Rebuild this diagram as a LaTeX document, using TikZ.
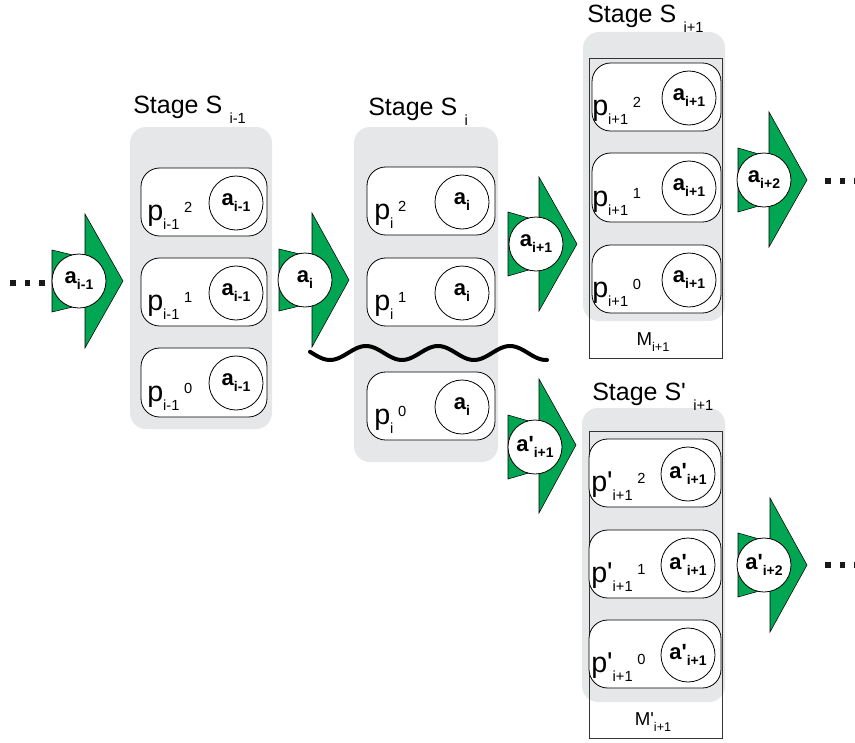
\documentclass[tikz,border=0pt]{standalone}
\usepackage{fontspec}
\setmainfont{Liberation Sans}
\usepackage{xcolor}
\usepackage{tikz}

\definecolor{stagegrey}{RGB}{230,231,232}
\definecolor{tokengreen}{RGB}{0,166,81}

% p^k labels: base, subscript, superscript
\newcommand{\proclab}[3]{\fontsize{21.5}{21.5}\selectfont #1\raisebox{-7pt}{\fontsize{11}{11}\selectfont #2}\hspace{3.5pt}\raisebox{6pt}{\fontsize{11}{11}\selectfont #3}}
% token labels in the circles
\newcommand{\toklab}[2]{\bfseries\fontsize{16.5}{16.5}\selectfont #1\raisebox{-4.5pt}{\fontsize{10.5}{10.5}\selectfont #2}}
\newcommand{\stagelab}[2]{\fontsize{18.75}{18.75}\selectfont Stage #1\hspace{5.5pt}\raisebox{-7.5pt}{\fontsize{11}{11}\selectfont #2}}
\newcommand{\memlab}[2]{\fontsize{14}{14}\selectfont #1\raisebox{-4.5pt}{\fontsize{9.5}{9.5}\selectfont #2}}

\tikzset{
  stagebox/.style={fill=stagegrey, rounded corners=12pt},
  procbox/.style={draw, fill=white, line width=0.6pt, rounded corners=14pt},
  membox/.style={draw=black!80, line width=0.5pt},
  token/.style={circle, draw, fill=white, line width=0.6pt, minimum size=40.5pt, inner sep=0pt},
  flowarrow/.style={fill=tokengreen, draw=black, line width=0.4pt},
  ellipsis/.style={fill=black!90},
  cutline/.style={line width=3pt, line cap=round},
  txt/.style={inner sep=0pt}
}

\begin{document}
\begin{tikzpicture}[x=0.75pt,y=0.75pt,yscale=-1,xscale=1]
\useasboundingbox (0,0) rectangle (855,742);

%Stage S i-1
\fill [stagebox] (130,127) rectangle (272,429);
\draw [procbox] (141,168) rectangle (267,236);
\draw [procbox] (141,258) rectangle (267,326);
\draw [procbox] (141,348) rectangle (267,417);
\node [token] (prev2) at (236,203) {\toklab{a}{i-1}};
\node [token] (prev1) at (236,293) {\toklab{a}{i-1}};
\node [token] (prev0) at (236,383) {\toklab{a}{i-1}};
\node [txt, anchor=base west] (pprev2) at (147,220) {\proclab{p}{i-1}{2}};
\node [txt, anchor=base west] (pprev1) at (147,310) {\proclab{p}{i-1}{1}};
\node [txt, anchor=base west] (pprev0) at (147,401) {\proclab{p}{i-1}{0}};
\node [txt, anchor=base west] (sprev) at (133,113) {\stagelab{S}{i-1}};

%Stage S i
\fill [stagebox] (354,127) rectangle (498,462);
\draw [procbox] (367,167) rectangle (495,235);
\draw [procbox] (367,258) rectangle (495,326);
\draw [procbox] (367,372) rectangle (495,440);
\node [token] (cur2) at (462,202) {\toklab{a}{i}};
\node [token] (cur1) at (462,293) {\toklab{a}{i}};
\node [token] (cur0) at (462,407) {\toklab{a}{i}};
\node [txt, anchor=base west] (pcur2) at (374,219) {\proclab{p}{i}{2}};
\node [txt, anchor=base west] (pcur1) at (374,310) {\proclab{p}{i}{1}};
\node [txt, anchor=base west] (pcur0) at (374,424) {\proclab{p}{i}{0}};
\node [txt, anchor=base west] (scur) at (368,115) {\stagelab{S}{i}};

%Stage S i+1 with memory M
\fill [stagebox] (583,32) rectangle (725,321);
\draw [membox] (589,58) rectangle (722,358);
\draw [procbox] (592,63) rectangle (721,131);
\draw [procbox] (592,153) rectangle (721,222);
\draw [procbox] (592,245) rectangle (721,313);
\node [token] (next2) at (689,98) {\toklab{a}{i+1}};
\node [token] (next1) at (689,188) {\toklab{a}{i+1}};
\node [token] (next0) at (689,280) {\toklab{a}{i+1}};
\node [txt, anchor=base west] (pnext2) at (592,115) {\proclab{p}{i+1}{2}};
\node [txt, anchor=base west] (pnext1) at (592,206) {\proclab{p}{i+1}{1}};
\node [txt, anchor=base west] (pnext0) at (592,297) {\proclab{p}{i+1}{0}};
\node [txt, anchor=base west] (snext) at (587,23) {\stagelab{S}{i+1}};
\node [txt, anchor=base] (mnext) at (653,345) {\memlab{M}{i+1}};

%Stage S' i+1 with memory M'
\fill [stagebox] (582,408) rectangle (725,702);
\draw [membox] (589,431) rectangle (722,738);
\draw [procbox] (589,439) rectangle (721,507);
\draw [procbox] (589,530) rectangle (721,598);
\draw [procbox] (589,620) rectangle (721,688);
\node [token] (alt2) at (688,474) {\toklab{a\textquotesingle}{i+1}};
\node [token] (alt1) at (688,565) {\toklab{a\textquotesingle}{i+1}};
\node [token] (alt0) at (688,655) {\toklab{a\textquotesingle}{i+1}};
\node [txt, anchor=base west] (palt2) at (591,491) {\proclab{p\textquotesingle}{i+1}{2}};
\node [txt, anchor=base west] (palt1) at (591,582) {\proclab{p\textquotesingle}{i+1}{1}};
\node [txt, anchor=base west] (palt0) at (591,672) {\proclab{p\textquotesingle}{i+1}{0}};
\node [txt, anchor=base west] (salt) at (592,400) {\stagelab{S\textquotesingle}{i+1}};
\node [txt, anchor=base] (malt) at (653,725) {\memlab{M\textquotesingle}{i+1}};

%Token arrows
\draw [flowarrow, shift={(79,281)}] (-27,-31) -- (6,-23) -- (6,-67) -- (44,0) -- (6,67) -- (6,23) -- (-27,31) -- cycle;
\node [token] (tokprev) at (79,281) {\toklab{a}{i-1}};
\draw [flowarrow, shift={(305,280)}] (-26,-31) -- (7,-23) -- (7,-67) -- (44,0) -- (7,67) -- (7,23) -- (-26,31) -- cycle;
\node [token] (tokcur) at (305,280) {\toklab{a}{i}};
\draw [flowarrow, shift={(536,244)}] (-28,-32) -- (3,-23) -- (3,-67) -- (41,0) -- (3,67) -- (3,23) -- (-28,32) -- cycle;
\node [token] (toknext) at (536,244) {\toklab{a}{i+1}};
\draw [flowarrow, shift={(535,447)}] (-27,-32) -- (4,-23) -- (4,-68) -- (41,-2) -- (4,66) -- (4,23) -- (-27,32) -- cycle;
\node [token] (tokalt) at (535,447) {\toklab{a\textquotesingle}{i+1}};
\draw [flowarrow, shift={(764,180)}] (-26,-32) -- (5,-23) -- (5,-68) -- (43,0) -- (5,67) -- (5,23) -- (-26,32) -- cycle;
\node [token] (toknn) at (764,180) {\toklab{a}{i+2}};
\draw [flowarrow, shift={(764,565)}] (-26,-32) -- (6,-23) -- (6,-67) -- (43,0) -- (6,67) -- (6,23) -- (-26,32) -- cycle;
\node [token] (tokaltn) at (764,565) {\toklab{a\textquotesingle}{i+2}};

%Ellipsis dots
\fill [ellipsis] (10,280) rectangle (15.5,285.5);
\fill [ellipsis] (24.5,280) rectangle (30,285.5);
\fill [ellipsis] (39,280) rectangle (44.5,285.5);
\fill [ellipsis] (825,178) rectangle (830.5,183.5);
\fill [ellipsis] (839.5,178) rectangle (845,183.5);
\fill [ellipsis] (854,178) rectangle (859.5,183.5);
\fill [ellipsis] (825,562) rectangle (830.5,567.5);
\fill [ellipsis] (839.5,562) rectangle (845,567.5);
\fill [ellipsis] (854,562) rectangle (859.5,567.5);

%Cut between p^1 and p^0
\draw [cutline] plot [domain=310:547, samples=90] (\x, {353+7*sin(5*(\x-312))});

\end{tikzpicture}
\end{document}
